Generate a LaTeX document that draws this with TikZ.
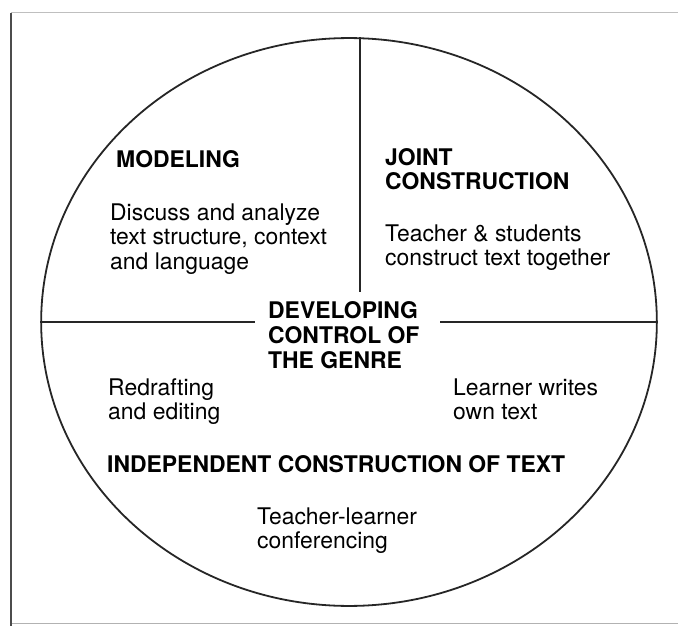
\documentclass[tikz,border=0pt]{standalone}
\usepackage{fontspec}
\setmainfont{TeX Gyre Heros}
\usetikzlibrary{shapes.geometric}

\begin{document}
\begin{tikzpicture}[
                x=1bp, y=-1bp,
                every node/.style={inner sep=0pt, anchor=base west, align=left, text=black},
                heading/.style={font=\fontsize{23}{25}\selectfont\bfseries},
                body/.style={font=\fontsize{23}{24.5}\selectfont},
                rule/.style={draw=black!85, line width=1.8bp}
                ]
                \useasboundingbox (0,0) rectangle (678,626);
                \draw[black!25, line width=1bp] (11,13) -- (678,13);
                \draw[black!30, line width=1bp] (11,623) -- (678,623);
                \draw[black!70, line width=1.6bp] (11,13) -- (11,626);
                \node[rule, ellipse, anchor=center, minimum width=618, minimum height=570] (cycle) at (349,322) {};
                \node[heading] (modeling) at (116,168) {MODELING};
                \node[body] (discuss) at (110,269) {Discuss and analyze\\text structure, context\\and language};
                \node[heading] (joint) at (385,190) {JOINT\\CONSTRUCTION};
                \node[body] (together) at (385,265.5) {Teacher \& students\\construct text together};
                \node[heading] (genre) at (268,368) {DEVELOPING\\CONTROL OF\\THE GENRE};
                \node[body] (redraft) at (108,419.5) {Redrafting\\and editing};
                \node[body] (writes) at (453,419.5) {Learner writes\\own text};
                \node[heading] (independent) at (107,472) {INDEPENDENT CONSTRUCTION OF TEXT};
                \node[body] (conference) at (257,548.5) {Teacher-learner\\conferencing};
                \coordinate (top) at (360,37.2);
                \coordinate (split) at (360,292);
                \coordinate (leftend) at (255,322);
                \coordinate (rightend) at (440,322);
                \draw[rule] (top) -- (split);
                \draw[rule] (cycle.west) -- (leftend);
                \draw[rule] (rightend) -- (cycle.east);
                \end{tikzpicture}
\end{document}
